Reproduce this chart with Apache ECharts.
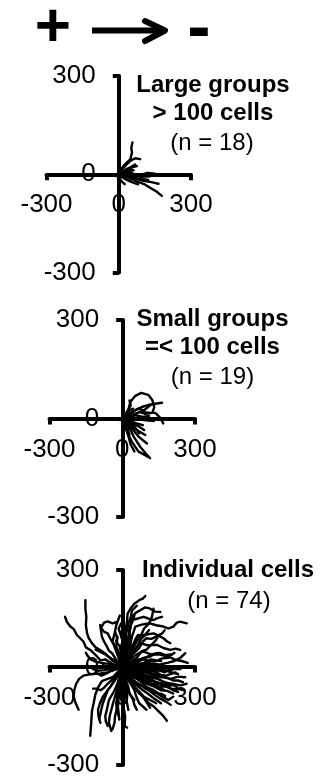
<!DOCTYPE html>
<html><head><meta charset="utf-8">
<script src="https://cdn.jsdelivr.net/npm/echarts@6/dist/echarts.min.js"></script>
<style>html,body{margin:0;padding:0;background:#fff}#c{width:324px;height:778px}</style>
</head><body><div id="c"></div>
<script>
// ---- data ----
const axisMin = -300, axisMax = 300, axisStep = 300;
const headerSymbols = ['+', '-'];
const largeTitle = ['Large groups', '> 100 cells', '(n = 18)'];
const smallTitle = ['Small groups', '=< 100 cells', '(n = 19)'];
const indivTitle = ['Individual cells', '(n = 74)'];

const largeTracks = [
 [[0,0],[20,25],[48,46],[55,66],[52,81],[57,97]],
 [[0,0],[6,10],[30,28],[48,41],[68,49],[89,46]],
 [[0,0],[30,15],[50,22],[68,30]],
 [[0,0],[35,10],[58,22],[75,25]],
 [[0,0],[25,5],[48,14],[62,12]],
 [[0,0],[40,3],[90,-2],[120,4],[151,2]],
 [[0,0],[45,-3],[90,-8],[130,-6]],
 [[0,0],[40,-10],[75,-22],[105,-30],[130,-41],[155,-52],[179,-66]],
 [[0,0],[50,-8],[102,-20],[135,-24],[165,-29]],
 [[0,0],[40,-5],[80,-14],[122,-17]],
 [[0,0],[30,-15],[55,-24],[80,-31]],
 [[0,0],[20,5],[40,9],[55,5]],
 [[0,0],[15,-10],[35,-17],[50,-22]],
 [[0,0],[10,15],[25,24],[35,35]],
 [[0,0],[-5,-8],[10,-20],[25,-30]],
 [[0,0],[30,1],[60,-4],[95,-3]],
 [[0,0],[20,-5],[45,-2],[70,-9]],
 [[0,0],[12,18],[30,33],[42,38]]
];

const smallTracks = [
 [[0,0],[15,15],[25,26],[33,50],[54,69],[78,78],[107,72],[124,56],[132,35],[124,17],[95,14],[70,20]],
 [[0,0],[30,15],[54,26],[80,35],[107,41],[135,45],[164,48]],
 [[0,0],[40,10],[74,20],[110,18],[136,17],[157,2],[169,-15]],
 [[0,0],[19,-15],[35,-35],[47,-55],[74,-86],[95,-105],[115,-121]],
 [[0,0],[12,-25],[25,-50],[40,-71],[67,-101],[108,-117]],
 [[0,0],[26,-15],[60,-35],[95,-50]],
 [[0,0],[35,-25],[67,-55],[102,-76]],
 [[0,0],[30,-8],[60,-15],[85,-20]],
 [[0,0],[25,5],[55,10],[85,5],[110,8]],
 [[0,0],[20,-40],[35,-80],[50,-100]],
 [[0,0],[15,10],[30,25],[45,30]],
 [[0,0],[-10,-5],[-18,-3]],
 [[0,0],[40,-15],[70,-25],[90,-35]],
 [[0,0],[20,20],[35,40],[30,55]],
 [[0,0],[45,0],[90,-5],[130,-8]],
 [[0,0],[10,-15],[22,-30],[30,-50]],
 [[0,0],[25,-10],[50,-25],[70,-45]],
 [[0,0],[35,15],[65,30],[90,25],[115,40]],
 [[0,0],[15,-5],[30,-8],[45,-15]]
];

const indivTracks = [
 [[0,0],[-15,12],[-35,8],[-70,25],[-90,22],[-104,34],[-132,54],[-150,62],[-160,80],[-187,100],[-200,118],[-214,126],[-228,140],[-236,156]],
 [[0,0],[-20,15],[-40,20],[-65,40],[-91,54],[-110,62],[-125,75],[-138,90],[-145,105],[-150,130],[-148,156],[-152,180],[-152,207]],
 [[0,0],[-10,20],[-20,15],[-30,30],[-42,44],[-55,52],[-63,64],[-75,80],[-84,95],[-88,115],[-91,131]],
 [[0,0],[-10,15],[-15,30],[-25,50],[-35,70],[-50,90],[-60,105],[-75,110],[-88,122],[-75,138],[-60,142],[-40,136],[-22,140]],
 [[0,0],[5,25],[-3,50],[4,75],[-5,100],[3,125],[0,150],[6,175],[0,200]],
 [[0,0],[8,30],[10,60],[18,90],[15,120],[20,145],[22,166],[35,182],[50,196],[72,208],[85,212],[95,220]],
 [[0,0],[-12,20],[-10,40],[-25,65],[-20,90],[-30,110],[-25,130],[-10,160]],
 [[0,0],[15,25],[10,45],[20,70],[10,95],[20,115],[25,135],[35,155],[40,175],[60,190]],
 [[0,0],[-10,15],[-5,30],[-20,45],[-25,60],[-40,80],[-35,95],[-30,110]],
 [[0,0],[-10,20],[8,35],[0,55],[20,70],[10,90],[15,110]],
 [[0,0],[-15,25],[-5,45],[-10,65],[-25,80],[-20,95]],
 [[0,0],[20,30],[15,55],[35,80],[28,105],[30,125],[42,140],[50,160]],
 [[0,0],[10,30],[20,60],[25,90],[33,120],[40,156],[55,168],[74,176],[95,185],[115,181],[135,172],[157,171]],
 [[0,0],[20,30],[20,60],[30,85],[30,110],[40,146],[60,150],[88,156],[110,150],[129,146],[145,152],[164,156]],
 [[0,0],[15,30],[30,60],[40,95],[54,126],[80,132],[115,136],[140,130],[170,126],[190,120],[211,126],[225,138],[239,141],[266,136]],
 [[0,0],[15,20],[30,40],[45,70],[60,95],[90,100],[129,105],[150,98],[170,90],[185,80],[198,75]],
 [[0,0],[20,15],[40,40],[55,60],[74,75],[105,68],[143,70],[170,60],[198,54],[220,58],[239,54]],
 [[0,0],[25,20],[50,35],[70,45],[88,49],[120,40],[157,44],[185,35],[218,24],[245,20],[270,14]],
 [[0,0],[15,20],[30,30],[45,60],[60,80],[75,95],[90,120],[110,135],[120,150],[125,165],[129,181]],
 [[0,0],[20,5],[40,20],[60,30],[80,50],[100,55],[120,70],[140,85],[150,100],[165,105],[175,115]],
 [[0,0],[15,20],[35,35],[50,45],[70,60],[85,80],[100,90],[120,88],[140,95]],
 [[0,0],[10,20],[25,25],[40,40],[55,50],[65,70],[80,90],[95,100],[110,115]],
 [[0,0],[25,5],[45,15],[70,20],[90,30],[110,32],[130,40],[155,40],[180,35],[200,38],[215,45]],
 [[0,0],[5,25],[20,45],[30,60],[45,70],[55,85],[65,100],[85,95],[100,105]],
 [[0,0],[30,10],[60,14],[90,8],[120,5],[150,0],[184,-2],[220,0],[253,4]],
 [[0,0],[25,10],[50,5],[75,12],[100,15],[130,8],[160,10],[190,15],[215,20],[240,30],[260,44]],
 [[0,0],[35,2],[70,-5],[100,-2],[130,0],[160,-8],[190,-10],[215,-4],[240,-5]],
 [[0,0],[20,8],[40,10],[65,20],[90,25],[115,18],[140,20],[165,28],[190,30]],
 [[0,0],[25,-3],[50,-10],[80,-10],[110,-15],[140,-10],[170,-8],[200,-14],[230,-20]],
 [[0,0],[30,5],[60,0],[90,-12],[120,-20],[150,-22],[180,-25],[200,-20],[220,-15]],
 [[0,0],[20,12],[45,20],[70,25],[95,30],[120,40],[150,45],[175,38],[200,40]],
 [[0,0],[35,-8],[70,-15],[105,-25],[140,-30],[170,-30],[200,-35],[230,-28],[260,-30]],
 [[0,0],[30,0],[55,-5],[80,-2],[105,-5],[130,-12],[155,-20]],
 [[0,0],[20,-2],[40,-8],[60,-10],[80,-15],[100,-10],[125,-10]],
 [[0,0],[30,8],[60,10],[90,0],[120,-5],[150,-8],[175,-15],[195,-5],[210,0]],
 [[0,0],[15,0],[30,5],[50,12],[75,10],[100,18],[120,25],[140,22],[160,20]],
 [[0,0],[40,-5],[80,-10],[115,-20],[150,-25],[180,-30],[210,-40],[230,-40],[250,-45]],
 [[0,0],[25,10],[50,15],[75,8],[100,5],[125,12],[145,10]],
 [[0,0],[25,-8],[50,-20],[80,-28],[110,-40],[140,-45],[170,-50],[205,-50],[240,-55],[265,-50]],
 [[0,0],[20,-10],[40,-25],[70,-35],[100,-50],[130,-58],[160,-70],[185,-72],[210,-80]],
 [[0,0],[25,-15],[50,-30],[75,-42],[100,-60],[125,-68],[150,-80],[165,-82],[177,-88]],
 [[0,0],[15,-20],[30,-40],[50,-60],[70,-80],[90,-92],[110,-110],[130,-120],[150,-135],[168,-148],[184,-164]],
 [[0,0],[30,-20],[60,-35],[90,-40],[120,-50],[155,-52],[190,-60],[210,-70],[230,-75]],
 [[0,0],[20,-20],[45,-40],[70,-50],[95,-65],[120,-72],[145,-80],[170,-92],[190,-100],[210,-90]],
 [[0,0],[15,-25],[35,-50],[55,-65],[80,-85],[95,-100],[115,-124]],
 [[0,0],[30,-5],[55,-15],[85,-25],[115,-30],[145,-35],[175,-45],[200,-50],[225,-60]],
 [[0,0],[20,-20],[40,-45],[60,-55],[85,-70],[105,-80],[130,-95],[145,-102],[160,-110]],
 [[0,0],[35,-10],[70,-25],[105,-32],[140,-45],[170,-55],[200,-65],[230,-66],[255,-70]],
 [[0,0],[15,-10],[30,-20],[55,-25],[80,-35],[105,-45],[130,-55],[150,-60],[175,-70]],
 [[0,0],[20,-25],[45,-55],[65,-70],[90,-90],[115,-100],[140,-110]],
 [[0,0],[10,-18],[20,-35],[35,-50],[50,-70],[58,-90],[70,-110],[85,-120],[100,-130]],
 [[0,0],[30,-25],[60,-50],[85,-58],[110,-70],[135,-85],[155,-95],[180,-105],[200,-115]],
 [[0,0],[10,-30],[25,-60],[30,-80],[45,-100],[50,-115],[60,-130]],
 [[0,0],[40,-20],[80,-40],[115,-50],[150,-60],[180,-58],[205,-55]],
 [[0,0],[8,-30],[10,-60],[3,-90],[5,-120],[12,-150],[10,-180],[20,-185]],
 [[0,0],[-5,-25],[-10,-50],[-12,-75],[-20,-100],[-22,-125],[-30,-150],[-32,-170],[-40,-190]],
 [[0,0],[8,-20],[5,-40],[12,-65],[15,-90],[20,-110],[25,-130]],
 [[0,0],[-8,-20],[-15,-40],[-20,-65],[-30,-90],[-38,-110],[-45,-130],[-52,-150],[-55,-170],[-45,-195]],
 [[0,0],[-8,-15],[-5,-30],[-12,-55],[-10,-80],[-5,-95],[0,-110]],
 [[0,0],[5,-25],[15,-50],[20,-65],[30,-80],[40,-90],[50,-100]],
 [[0,0],[-10,-30],[-20,-60],[-18,-85],[-25,-110],[-22,-130],[-15,-150]],
 [[0,0],[-5,-35],[-8,-70],[-15,-95],[-18,-120],[-15,-140],[-12,-160]],
 [[0,0],[-20,-15],[-40,-30],[-60,-35],[-84,-42],[-100,-62],[-111,-83],[-118,-110],[-125,-134],[-128,-170],[-132,-210]],
 [[0,0],[-30,-5],[-60,-15],[-90,-18],[-120,-20],[-140,-22],[-160,-25],[-178,-35],[-190,-50],[-198,-70],[-200,-90],[-192,-110],[-180,-130]],
 [[0,0],[-15,-20],[-30,-40],[-45,-55],[-60,-70],[-70,-90],[-80,-110],[-88,-135],[-95,-160]],
 [[0,0],[-25,-30],[-45,-55],[-62,-72],[-80,-90],[-92,-110],[-100,-130],[-98,-150],[-90,-170]],
 [[0,0],[-12,-12],[-25,-25],[-42,-38],[-60,-50],[-75,-62],[-90,-70],[-105,-65],[-120,-65]],
 [[0,0],[-10,-25],[-20,-50],[-35,-75],[-55,-100],[-62,-125],[-70,-150],[-68,-165],[-60,-180]],
 [[0,0],[-20,5],[-40,10],[-65,12],[-90,15],[-110,18],[-130,25],[-142,35],[-150,45]],
 [[0,0],[-25,-2],[-50,-5],[-75,-8],[-100,-10],[-120,-5],[-140,5]],
 [[0,0],[-15,10],[-30,20],[-50,30],[-70,40],[-90,48],[-110,55]],
 [[0,0],[-20,-5],[-45,-10],[-65,-18],[-85,-25],[-100,-20],[-110,-15]],
 [[0,0],[-12,2],[-25,5],[-42,0],[-60,-5],[-70,2],[-80,10]],
 [[0,0],[10,15],[-5,30],[5,45],[-8,60],[2,80],[-6,100],[-15,120],[-5,135]]
];

// ---- layout ----
const FONT = '"Liberation Sans", Arial, sans-serif';
const panels = [
  {left:46.5, top:76, width:144.5, height:196.5, tracks: largeTracks},
  {left:49.5, top:320, width:145.5, height:197, tracks: smallTracks},
  {left:49.5, top:570, width:145.5, height:197, tracks: indivTracks}
];

const grid = [], xAxis = [], yAxis = [], series = [];
panels.forEach((p, i) => {
  grid.push({left:p.left, top:p.top, width:p.width, height:p.height, containLabel:false});
  const base = {
    type:'value', gridIndex:i, min:axisMin, max:axisMax, interval:axisStep,
    splitLine:{show:false},
    axisLine:{show:true, onZero:false, lineStyle:{color:'#000', width:4}},
    axisTick:{show:true, inside:false, length:6, lineStyle:{color:'#000', width:4}}
  };
  xAxis.push(Object.assign({}, base, {position:'bottom', offset:-p.height/2,
    axisLabel:{color:'#000', fontSize:26, fontFamily:FONT, margin:18}}));
  yAxis.push(Object.assign({}, base, {position:'left', offset:-p.width/2,
    axisLabel:{color:'#000', fontSize:26, fontFamily:FONT, margin:23}}));
  p.tracks.forEach(t => {
    series.push({type:'line', xAxisIndex:i, yAxisIndex:i, data:t, symbol:'none',
      showSymbol:false, silent:true, clip:false, z:3,
      lineStyle:{color:'#000', width:2.4, join:'round', cap:'round'}});
  });
});

function txt(s, x, y, size, bold, align) {
  return {type:'text', silent:true, z:10, style:{text:s, x:x, y:y, fill:'#000',
    font:(bold?'bold ':'') + size + 'px ' + FONT, textAlign:align||'center', textVerticalAlign:'middle'}};
}

const graphic = [
  txt(headerSymbols[0], 52.8, 29, 62, true),
  txt(headerSymbols[1], 199, 31, 70, true),
  {type:'polyline', silent:true, shape:{points:[[92,30.5],[162,30.5]]}, style:{stroke:'#000', lineWidth:6, lineCap:'butt'}},
  {type:'polyline', silent:true, shape:{points:[[145,21],[165,30.5],[145,41]]}, style:{stroke:'#000', lineWidth:6, lineCap:'round', lineJoin:'round', fill:null}},
  txt(largeTitle[0], 213, 85.5, 24, true),
  txt(largeTitle[1], 213, 113, 24, true),
  txt(largeTitle[2], 212, 143, 24, false),
  txt(smallTitle[0], 212.5, 319, 24, true),
  txt(smallTitle[1], 212.5, 347.5, 24, true),
  txt(smallTitle[2], 212.5, 377.5, 24, false),
  txt(indivTitle[0], 228, 570, 24, true),
  txt(indivTitle[1], 229, 601, 24, false)
];

const chart = echarts.init(document.getElementById('c'), null, {renderer:'canvas'});
chart.setOption({animation:false, backgroundColor:'#fff', grid, xAxis, yAxis, series, graphic});
</script>
</body></html>
